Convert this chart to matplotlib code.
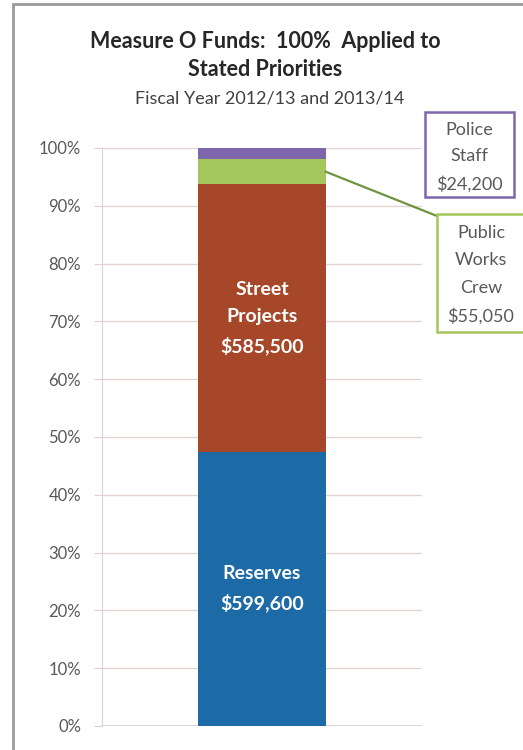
import matplotlib
matplotlib.use("Agg")
import matplotlib.pyplot as plt
from matplotlib.patches import Rectangle

categories = ["Reserves", "Street Projects", "Public Works Crew", "Police Staff"]
values = [599600, 585500, 55050, 24200]
bar_labels = ["Reserves\n$599,600", "Street\nProjects\n$585,500", "Public\nWorks\nCrew\n$55,050", "Police\nStaff\n$24,200"]
colors = ["#1c6aa6", "#a6472a", "#a4c65b", "#7e66aa"]
ticks = [0, 10, 20, 30, 40, 50, 60, 70, 80, 90, 100]
tick_labels = [f"{t}%" for t in ticks]

plt.rcParams['font.family'] = ['Lato', 'DejaVu Sans']

W, H = 523, 750
fig = plt.figure(figsize=(W / 100, H / 100), dpi=100)
fig.patch.set_facecolor("white")

# outer frame
fig.add_artist(Rectangle((13 / W, -0.05), 1.2, 1 - 4 / H + 0.05, transform=fig.transFigure,
                         fill=False, edgecolor="#9a9a9a", linewidth=2))

ax = fig.add_axes([102 / W, 1 - 726 / H, (422 - 102) / W, (726 - 148) / H])
total = sum(values)
pcts = [v / total * 100 for v in values]
bottom = 0
centers = []
for p, c in zip(pcts, colors):
    ax.bar(0, p, bottom=bottom, width=0.397, color=c, edgecolor="none", zorder=3)
    centers.append(bottom + p / 2)
    bottom += p

ax.set_xlim(-0.5, 0.5)
ax.set_ylim(0, 100)
ax.set_yticks(ticks)
ax.set_yticklabels(tick_labels, fontsize=12, color="#595959")
ax.set_xticks([])
ax.yaxis.grid(True, color="#e3d3d1", linewidth=1, zorder=0)
for s in ["top", "right", "bottom"]:
    ax.spines[s].set_visible(False)
ax.spines["left"].set_color("#ddd0cf")
ax.axhline(0, color="#d9cfcf", linewidth=1.2, zorder=2)
ax.tick_params(axis="y", length=6, color="#ddd0cf", pad=9)

# in-bar labels
for i in [0, 1]:
    ax.text(0, centers[i], bar_labels[i], ha="center", va="center", color="white",
            fontsize=14, fontweight="bold", linespacing=1.72, zorder=4)

# title
fig.text(265 / W, 1 - 42 / H, "Measure O Funds:  100%  Applied to", ha="center", va="center",
         fontsize=15.5, fontweight="bold", color="#262626")
fig.text(265 / W, 1 - 70 / H, "Stated Priorities", ha="center", va="center",
         fontsize=15.5, fontweight="bold", color="#262626")
fig.text(270 / W, 1 - 98 / H, "Fiscal Year 2012/13 and 2013/14", ha="center", va="center",
         fontsize=13, color="#404040")

# callout boxes
fig.add_artist(Rectangle((425 / W, 1 - 197 / H), 89 / W, 85 / H, transform=fig.transFigure,
                         fill=True, facecolor="white", edgecolor="#7e66aa", linewidth=1.8, zorder=5))
fig.text(469.5 / W, 1 - 157 / H, bar_labels[3], ha="center", va="center", fontsize=13,
         color="#595959", linespacing=1.82, zorder=6)

fig.add_artist(Rectangle((437 / W, 1 - 332 / H), 100 / W, 118 / H, transform=fig.transFigure,
                         fill=True, facecolor="white", edgecolor="#a4c65b", linewidth=1.8, zorder=5))
fig.text(481 / W, 1 - 275 / H, bar_labels[2], ha="center", va="center", fontsize=13,
         color="#595959", linespacing=1.88, zorder=6)

ax.annotate("", xy=(0.1985, centers[2]), xycoords="data",
            xytext=(437 / W, 1 - 216 / H), textcoords="figure fraction",
            arrowprops=dict(arrowstyle="-", color="#6f9440", lw=1.6, shrinkA=0, shrinkB=0),
            annotation_clip=False, zorder=4)

fig.savefig("out.png", dpi=100)
